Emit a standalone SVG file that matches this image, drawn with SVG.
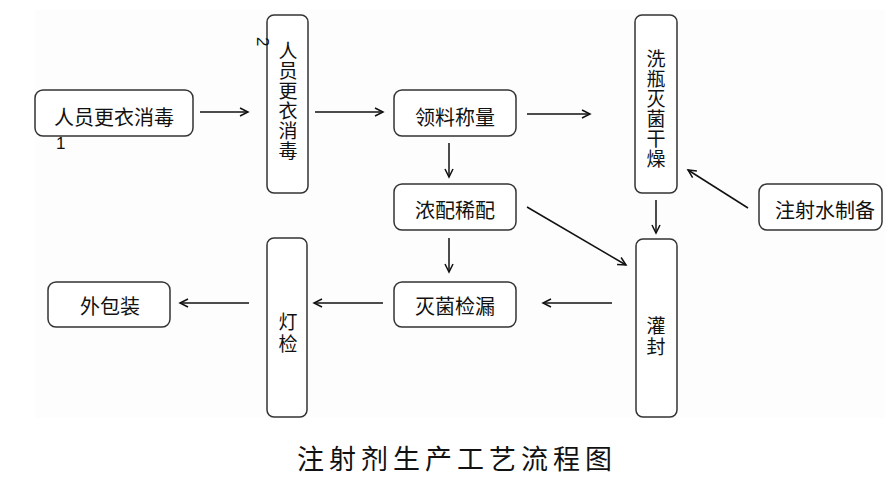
<svg xmlns="http://www.w3.org/2000/svg" width="894" height="481" viewBox="0 0 894 481">
<style>
.box{fill:#fff;stroke:#333;stroke-width:1.5}
.t{font-family:"Noto Sans CJK SC","Liberation Sans",sans-serif;font-size:20px;fill:#111;text-anchor:middle;dominant-baseline:central}
.v{font-size:19px}
.c{stroke:#111;stroke-width:1.5;fill:none;marker-end:url(#ah)}
.n{font-family:"Liberation Sans",sans-serif;font-size:17px;fill:#111}
</style>
<defs>
<marker id="ah" markerWidth="12" markerHeight="12" refX="9" refY="5" orient="auto" markerUnits="userSpaceOnUse">
<path d="M1,1 L9,5 L1,9" fill="none" stroke="#111" stroke-width="1.5"/>
</marker>
</defs>
<rect width="894" height="481" fill="#fff"/>
<rect x="35" y="10" width="850" height="408" fill="#fdfdfd"/>
<g id="n1">
<rect class="box" x="35" y="90" width="158" height="46" rx="8"/>
<text class="t" x="114" y="116">人员更衣消毒</text>
<text class="n" x="56" y="149">1</text>
</g>
<g id="n2">
<rect class="box" x="267" y="15" width="41" height="178" rx="7"/>
<text class="t v" x="288" y="49">人</text>
<text class="t v" x="288" y="69">员</text>
<text class="t v" x="288" y="89">更</text>
<text class="t v" x="288" y="109">衣</text>
<text class="t v" x="288" y="129">消</text>
<text class="t v" x="288" y="149">毒</text>
<text class="n" transform="translate(257,37) rotate(90)">2</text>
</g>
<g id="n3">
<rect class="box" x="394" y="90" width="122" height="46" rx="8"/>
<text class="t" x="455" y="116">领料称量</text>
</g>
<g id="n4">
<rect class="box" x="635" y="15" width="42" height="178" rx="7"/>
<text class="t v" x="656" y="57">洗</text>
<text class="t v" x="656" y="77">瓶</text>
<text class="t v" x="656" y="97">灭</text>
<text class="t v" x="656" y="117">菌</text>
<text class="t v" x="656" y="137">干</text>
<text class="t v" x="656" y="157">燥</text>
</g>
<g id="n5">
<rect class="box" x="394" y="184" width="122" height="46" rx="8"/>
<text class="t" x="455" y="209">浓配稀配</text>
</g>
<g id="n6">
<rect class="box" x="759" y="184" width="123" height="46" rx="8"/>
<text class="t" x="825" y="209">注射水制备</text>
</g>
<g id="n7">
<rect class="box" x="636" y="239" width="41" height="178" rx="7"/>
<text class="t v" x="656" y="324">灌</text>
<text class="t v" x="656" y="345">封</text>
</g>
<g id="n8">
<rect class="box" x="394" y="282" width="122" height="45" rx="8"/>
<text class="t" x="455" y="305">灭菌检漏</text>
</g>
<g id="n9">
<rect class="box" x="267" y="238" width="40" height="179" rx="7"/>
<text class="t v" x="288" y="320">灯</text>
<text class="t v" x="288" y="342">检</text>
</g>
<g id="n10">
<rect class="box" x="48" y="282" width="122" height="45" rx="8"/>
<text class="t" x="110" y="305">外包装</text>
</g>
<g id="connectors">
<line class="c" x1="200" y1="112" x2="248" y2="112"/>
<line class="c" x1="315" y1="112" x2="383" y2="112"/>
<line class="c" x1="527" y1="114" x2="590" y2="114"/>
<line class="c" x1="449" y1="143" x2="449" y2="177"/>
<line class="c" x1="656" y1="200" x2="656" y2="233"/>
<line class="c" x1="748" y1="208" x2="688" y2="170"/>
<line class="c" x1="527" y1="207" x2="626" y2="265"/>
<line class="c" x1="449" y1="238" x2="449" y2="272"/>
<line class="c" x1="612" y1="303" x2="543" y2="303"/>
<line class="c" x1="383" y1="303" x2="314" y2="303"/>
<line class="c" x1="249" y1="303" x2="180" y2="303"/>
</g>
<text x="457" y="457" style="font-family:'Noto Sans CJK SC',serif;font-size:27px;font-weight:400;fill:#111;text-anchor:middle;dominant-baseline:central;letter-spacing:5px">注射剂生产工艺流程图</text>
</svg>
